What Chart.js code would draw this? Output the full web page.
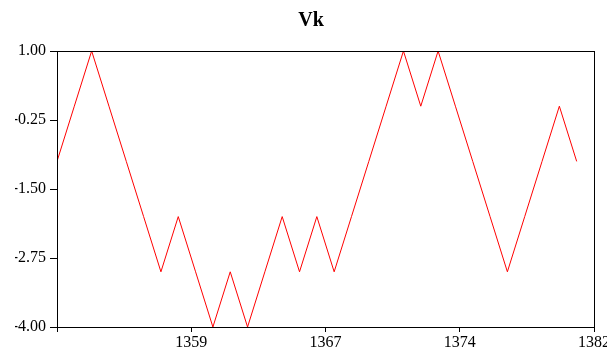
<!DOCTYPE html>
<html>
<head>
<meta charset="utf-8">
<title>Vk</title>
<script src="https://cdn.jsdelivr.net/npm/chart.js@4/dist/chart.umd.min.js"></script>
<style>
  html, body { margin: 0; padding: 0; background: #fff; overflow: hidden; }
  #wrap { width: 607px; height: 349px; }
</style>
</head>
<body>
<div id="wrap"><canvas id="vk" width="607" height="349"></canvas></div>
<script>
// yearly Vk values, 1351..1381
const years = [
  1351, 1352, 1353, 1354, 1355, 1356, 1357, 1358, 1359, 1360, 1361,
  1362, 1363, 1364, 1365, 1366, 1367, 1368, 1369, 1370, 1371, 1372,
  1373, 1374, 1375, 1376, 1377, 1378, 1379, 1380, 1381
];
const vk = [
  -1, 0, 1, 0, -1, -2, -3, -2, -3, -4, -3,
  -4, -3, -2, -3, -2, -3, -2, -1, 0, 1, 0,
  1, 0, -1, -2, -3, -2, -1, 0, -1
];

// axis ticks: x range split in four equal steps, labels rounded to whole years
const xTickValues = [1351, 1358.75, 1366.5, 1374.25, 1382];
const xTickLabels = ['', '1359', '1367', '1374', '1382'];
const yTickValues = [-4, -2.75, -1.5, -0.25, 1];
const yTickLabels = ['-4.00', '-2.75', '-1.50', '-0.25', '1.00'];

const serif = 'Liberation Serif';

// closed black frame round the plot area
const frame = {
  id: 'frame',
  afterDraw(chart) {
    const { ctx, chartArea: a } = chart;
    ctx.save();
    ctx.strokeStyle = '#000';
    ctx.lineWidth = 1;
    ctx.strokeRect(Math.round(a.left) + 0.5, Math.round(a.top) + 0.5,
      Math.round(a.right - a.left), Math.round(a.bottom - a.top));
    ctx.restore();
  }
};

new Chart(document.getElementById('vk'), {
  type: 'line',
  data: {
    datasets: [{
      label: 'Vk',
      data: years.map((y, i) => ({ x: y, y: vk[i] })),
      borderColor: '#ff0000',
      borderWidth: 1,
      pointRadius: 0,
      tension: 0,
      fill: false
    }]
  },
  options: {
    responsive: false,
    animation: false,
    layout: { padding: { left: 15, right: 0, top: 0, bottom: 0 } },
    plugins: {
      legend: { display: false },
      tooltip: { enabled: false },
      title: {
        display: true,
        text: 'Vk',
        color: '#000',
        font: { family: serif, size: 20, weight: 'bold' },
        padding: { top: 9, bottom: 18 }
      }
    },
    scales: {
      x: {
        type: 'linear',
        min: 1351,
        max: 1382,
        afterBuildTicks: s => { s.ticks = xTickValues.map(v => ({ value: v })); },
        afterFit: s => { s.height = 22; s.paddingRight = 13; s.paddingLeft = 0; },
        grid: { drawOnChartArea: false, color: '#000', tickLength: 5 },
        border: { display: true, color: '#000', width: 1 },
        ticks: {
          color: '#000',
          font: { family: serif, size: 16 },
          padding: 1,
          maxRotation: 0,
          autoSkip: false,
          callback: (v, i) => xTickLabels[i]
        }
      },
      y: {
        min: -4,
        max: 1,
        afterBuildTicks: s => { s.ticks = yTickValues.map(v => ({ value: v })); },
        afterFit: s => { s.width = 42; },
        grid: { drawOnChartArea: false, color: '#000', tickLength: 7 },
        border: { display: true, color: '#000', width: 1 },
        ticks: {
          color: '#000',
          font: { family: serif, size: 16 },
          padding: 4,
          autoSkip: false,
          callback: (v, i) => yTickLabels[i]
        }
      }
    }
  },
  plugins: [frame]
});
</script>
</body>
</html>
